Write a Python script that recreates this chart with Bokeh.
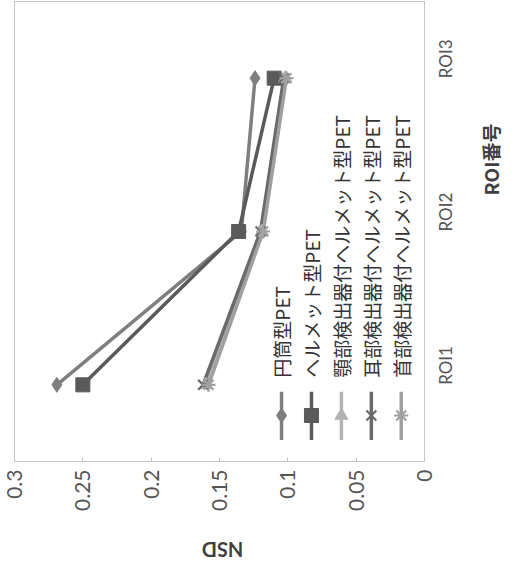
from math import pi
from bokeh.plotting import figure
from bokeh.models import Range1d, FactorRange, FixedTicker, Label
from bokeh.layouts import row, column
from bokeh.core.properties import value
from bokeh.embed import file_html
from bokeh.resources import INLINE

# ---- data ----
categories = ["ROI1", "ROI2", "ROI3"]
series_names = [
    "円筒型PET",
    "ヘルメット型PET",
    "顎部検出器付ヘルメット型PET",
    "耳部検出器付ヘルメット型PET",
    "首部検出器付ヘルメット型PET",
]
nsd_cylinder = [0.269, 0.134, 0.124]
nsd_helmet = [0.250, 0.136, 0.110]
nsd_chin = [0.160, 0.119, 0.102]
nsd_ear = [0.162, 0.120, 0.103]
nsd_neck = [0.158, 0.118, 0.101]
nsd_ticks = [0, 0.05, 0.1, 0.15, 0.2, 0.25, 0.3]
nsd_tick_labels = ["0", "0.05", "0.1", "0.15", "0.2", "0.25", "0.3"]
x_title = "NSD"
y_title = "ROI番号"

series_values = [nsd_cylinder, nsd_helmet, nsd_chin, nsd_ear, nsd_neck]

# ---- styles ----
styles = [
    dict(color="#7f7f7f", marker="diamond", size=15),
    dict(color="#5a5a5a", marker="square", size=14),
    dict(color="#b3b3b3", marker="triangle", size=13),
    dict(color="#6a6a6a", marker="x", size=14),
    dict(color="#a0a0a0", marker="asterisk", size=14),
]

MAIN_W, MAIN_H = 478, 528
STRIP_W, STRIP_H = 26, 32

p = figure(
    width=MAIN_W, height=MAIN_H,
    x_range=Range1d(0.3, 0), y_range=FactorRange(*categories),
    y_axis_location="right",
    output_backend="svg", toolbar_location=None,
    min_border_left=14, min_border_top=1, min_border_right=54, min_border_bottom=67,
)
p.background_fill_color = "white"
p.border_fill_color = "white"
p.outline_line_color = "#c6c6c6"
p.xgrid.visible = False
p.ygrid.visible = False

xa = p.xaxis[0]
xa.ticker = FixedTicker(ticks=nsd_ticks)
xa.major_label_overrides = dict(zip(nsd_ticks, nsd_tick_labels))
xa.major_label_orientation = pi / 2
xa.major_tick_in = 4
xa.major_tick_out = 0
xa.minor_tick_line_color = None
xa.axis_line_color = "#c6c6c6"
xa.major_tick_line_color = "#c6c6c6"
xa.major_label_text_font = "Lato"
xa.major_label_text_font_size = "21px"
xa.major_label_text_color = "#555555"
xa.major_label_standoff = 8

ya = p.yaxis[0]
ya.major_label_orientation = pi / 2
ya.major_tick_line_color = None
ya.major_tick_in = 0
ya.major_tick_out = 0
ya.axis_line_color = "#c6c6c6"
ya.major_label_standoff = 21
ya.major_label_text_font = "Lato"
ya.major_label_text_font_size = "17px"
ya.major_label_text_color = "#555555"

# ---- series ----
for vals, st in zip(series_values, styles):
    p.line(x=vals, y=categories, line_color=st["color"], line_width=3.5)
for vals, st in zip(series_values, styles):
    lw = 2.2 if st["marker"] in ("x", "asterisk") else 1
    p.scatter(x=vals, y=categories, marker=st["marker"], size=st["size"],
              fill_color=st["color"], line_color=st["color"], line_width=lw)

# ---- legend (rotated, drawn by hand) ----
LEG_X0 = 0.1046     # first column, NSD units
LEG_DX = 0.0219     # column spacing, NSD units
for i, (name, st) in enumerate(zip(series_names, styles)):
    lx = LEG_X0 - i * LEG_DX
    p.segment(x0=[lx], y0=[(categories[0], -0.045)], x1=[lx], y1=[(categories[0], -0.36)],
              line_color=st["color"], line_width=3.5)
    lw = 2.2 if st["marker"] in ("x", "asterisk") else 1
    p.scatter(x=[lx], y=[(categories[0], -0.2)], marker=st["marker"], size=st["size"],
              fill_color=st["color"], line_color=st["color"], line_width=lw)
    p.text(x=[lx], y=[(categories[0], 0.047)], text=[name], angle=pi / 2,
           text_align="left", text_baseline="middle",
           text_font=value("Noto Sans CJK JP"), text_font_size="19px", text_color="#333333")


def strip(w, h):
    s = figure(width=w, height=h, x_range=Range1d(0, 1), y_range=Range1d(0, 1),
               x_axis_location=None, y_axis_location=None,
               output_backend="svg", toolbar_location=None, min_border=0)
    s.outline_line_color = None
    s.background_fill_color = "white"
    s.border_fill_color = "white"
    s.grid.visible = False
    return s


# right strip: category-axis title, reading bottom-to-top
right = strip(STRIP_W, MAIN_H)
right.add_layout(Label(x=12, y=MAIN_H - 226, x_units="screen", y_units="screen",
                       text=y_title, angle=pi / 2, text_align="center", text_baseline="middle",
                       text_font="Noto Sans CJK JP", text_font_style="bold",
                       text_font_size="19px", text_color="#404040"))

# bottom strip: value-axis title, upside down as in the rotated original
bottom = strip(MAIN_W + STRIP_W, STRIP_H)
bottom.add_layout(Label(x=222, y=STRIP_H - 21, x_units="screen", y_units="screen",
                        text=x_title, angle=pi, text_align="center", text_baseline="middle",
                        text_font="Lato", text_font_style="bold",
                        text_font_size="20px", text_color="#404040"))

layout = column(row(p, right, spacing=0), bottom, spacing=0)
open("out.html", "w").write(file_html(layout, INLINE))
